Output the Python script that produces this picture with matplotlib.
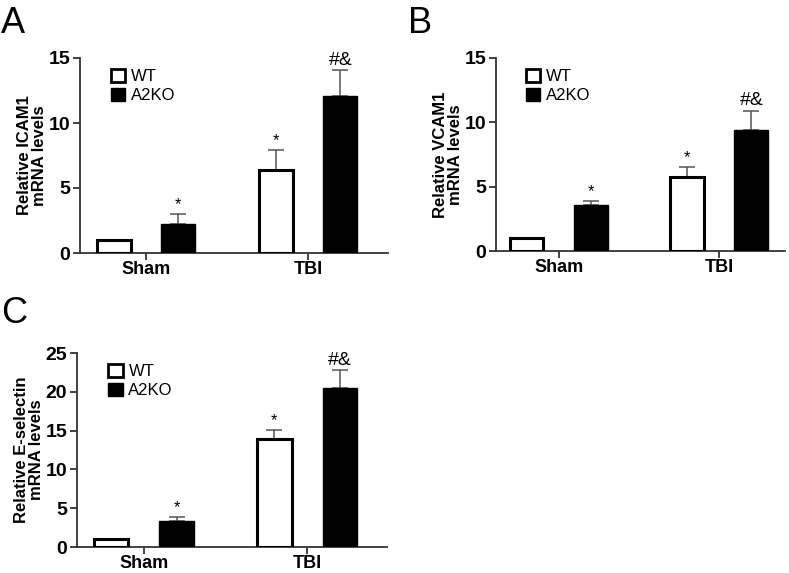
import matplotlib
matplotlib.use("Agg")
import matplotlib.pyplot as plt
from matplotlib.patches import Patch

plt.rcParams['font.family'] = ['Liberation Sans', 'DejaVu Sans']

groups = ['Sham', 'TBI']
series = ['WT', 'A2KO']

# ICAM1
icam_wt = [1.0, 6.35]
icam_wt_err = [0.0, 1.6]
icam_ko = [2.2, 12.05]
icam_ko_err = [0.8, 2.0]

# VCAM1
vcam_wt = [1.0, 5.75]
vcam_wt_err = [0.0, 0.8]
vcam_ko = [3.6, 9.4]
vcam_ko_err = [0.3, 1.5]

# E-selectin
esel_wt = [1.0, 13.95]
esel_wt_err = [0.0, 1.15]
esel_ko = [3.3, 20.5]
esel_ko_err = [0.6, 2.25]

wt_marks = ['', '*']
ko_marks = ['*', '#&']


def draw_panel(rect, letter, letter_pos, wt, wt_err, ko, ko_err, ymax, ystep, ylabel, xlim):
    ax = fig.add_axes(rect)
    x = range(len(groups))
    off = 0.2
    w = 0.21
    xw = [i - off for i in x]
    xk = [i + off for i in x]
    ax.bar(xw, wt, width=w, color='white', edgecolor='black', linewidth=2.2, zorder=3)
    ax.bar(xk, ko, width=w, color='black', edgecolor='black', linewidth=1, zorder=3)
    ax.errorbar(xw, wt, yerr=[[0] * len(wt), wt_err], fmt='none', ecolor='#555555',
                elinewidth=1.1, capsize=6, capthick=1.1, zorder=2)
    ax.errorbar(xk, ko, yerr=[[0] * len(ko), ko_err], fmt='none', ecolor='#555555',
                elinewidth=1.1, capsize=6, capthick=1.1, zorder=2)
    for xi, v, e, m in zip(xw, wt, wt_err, wt_marks):
        if m:
            ax.annotate(m, (xi, v + e), xytext=(0, 1), textcoords='offset points',
                        ha='center', va='bottom', fontsize=12)
    for xi, v, e, m in zip(xk, ko, ko_err, ko_marks):
        ax.annotate(m, (xi, v + e), xytext=(0, 1), textcoords='offset points',
                    ha='center', va='bottom', fontsize=12 if m == '*' else 14)
    ax.set_xlim(*xlim)
    ax.set_ylim(0, ymax)
    ax.set_yticks(range(0, ymax + 1, ystep))
    ax.set_xticks(list(x))
    ax.set_xticklabels(groups, fontsize=13, fontweight='bold')
    for t in ax.get_yticklabels():
        t.set_fontsize(14)
        t.set_fontweight('bold')
    ax.set_ylabel(ylabel, fontsize=12, fontweight='bold', labelpad=1, linespacing=1.0)
    for s in ['top', 'right']:
        ax.spines[s].set_visible(False)
    for s in ['left', 'bottom']:
        ax.spines[s].set_linewidth(1.3)
        ax.spines[s].set_color('#333333')
    ax.tick_params(axis='both', width=1.3, length=5, color='#333333', pad=2)
    ax.tick_params(axis='x', pad=1)
    handles = [Patch(facecolor='white', edgecolor='black', linewidth=2),
               Patch(facecolor='black', edgecolor='black')]
    ax.legend(handles, series, loc='upper left', bbox_to_anchor=(0.08, 0.98), frameon=False,
              fontsize=12, handlelength=0.85, handleheight=0.9, handletextpad=0.35,
              labelspacing=0.2, borderaxespad=0)
    fig.text(letter_pos[0], letter_pos[1], letter, fontsize=26, ha='left', va='top')
    return ax


fig = plt.figure(figsize=(7.89, 5.73), dpi=100)
W, H = 789.0, 573.0

draw_panel([80 / W, (H - 253) / H, 308 / W, 195 / H], 'A', (1 / W, 1 - 6 / H),
           icam_wt, icam_wt_err, icam_ko, icam_ko_err, 15, 5,
           'Relative ICAM1\nmRNA levels', (-0.407, 1.494))
draw_panel([496 / W, (H - 251) / H, 289 / W, 193 / H], 'B', (408 / W, 1 - 6 / H),
           vcam_wt, vcam_wt_err, vcam_ko, vcam_ko_err, 15, 5,
           'Relative VCAM1\nmRNA levels', (-0.39, 1.41))
draw_panel([77 / W, (H - 547) / H, 310 / W, 194 / H], 'C', (1 / W, 1 - 296 / H),
           esel_wt, esel_wt_err, esel_ko, esel_ko_err, 25, 5,
           'Relative E-selectin\nmRNA levels', (-0.41, 1.49))

fig.savefig('out.png', dpi=100)
